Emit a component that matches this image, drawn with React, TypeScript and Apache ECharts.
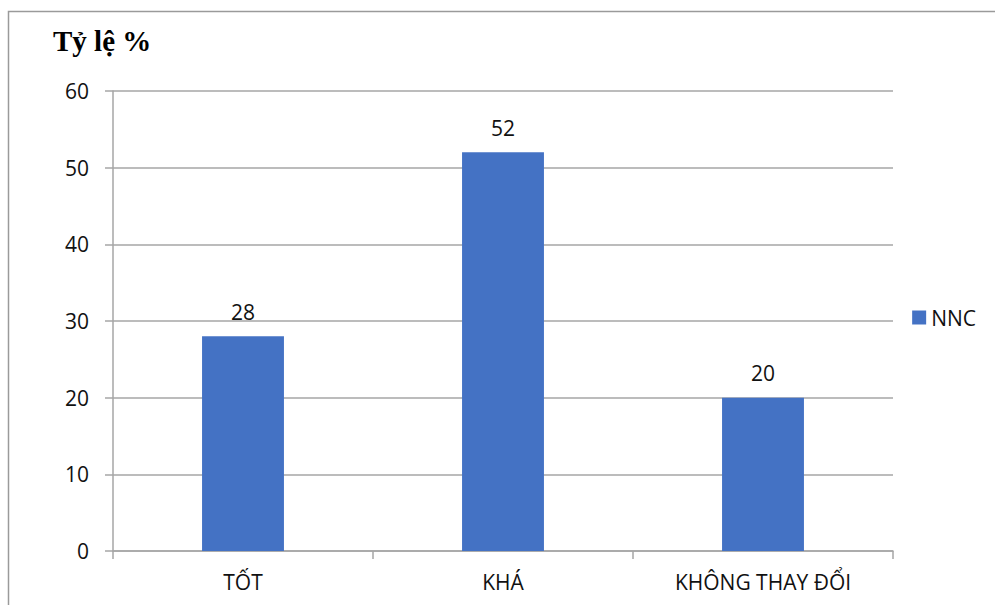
import React, { useEffect, useRef } from "react";
import * as echarts from "echarts";

const categories = ["TỐT", "KHÁ", "KHÔNG THAY ĐỔI"];
const nncValues = [28, 52, 20];
const seriesName = "NNC";
const yTitle = "Tỷ lệ %";

const FONT = "'Open Sans', 'Noto Sans', sans-serif";

export default function App() {
  const ref = useRef<HTMLDivElement>(null);

  useEffect(() => {
    if (!ref.current) return;
    const chart = echarts.init(ref.current, undefined, { renderer: "svg" });
    chart.setOption({
      animation: false,
      backgroundColor: "#ffffff",
      graphic: [
        {
          type: "rect",
          shape: { x: 8.5, y: 11.5, width: 1100, height: 700 },
          style: { fill: "none", stroke: "#9a9a9a", lineWidth: 1.5 },
          silent: true,
        },
        {
          type: "text",
          left: 53,
          top: 26,
          style: {
            text: yTitle,
            font: "bold 29px 'Liberation Serif', 'Times New Roman', serif",
            fill: "#000000",
          },
        },
      ],
      legend: {
        show: true,
        right: 14,
        top: 302,
        orient: "vertical",
        icon: "rect",
        itemWidth: 14,
        itemHeight: 14,
        itemGap: 8,
        textStyle: { fontFamily: FONT, fontSize: 21, color: "#111111" },
        data: [seriesName],
      },
      grid: { left: 113, right: 102, top: 91, bottom: 54, containLabel: false },
      xAxis: {
        type: "category",
        data: categories,
        boundaryGap: true,
        axisLine: { show: true, lineStyle: { color: "#a6a6a6", width: 1.5 } },
        axisTick: { show: true, length: 8, alignWithLabel: false, lineStyle: { color: "#a6a6a6", width: 1.5 } },
        axisLabel: { fontFamily: FONT, fontSize: 21, color: "#111111", margin: 20 },
      },
      yAxis: {
        type: "value",
        min: 0,
        max: 60,
        interval: 10,
        axisLine: { show: true, lineStyle: { color: "#a6a6a6", width: 1.5 } },
        axisTick: { show: true, length: 8, inside: false, lineStyle: { color: "#a6a6a6", width: 1.5 } },
        splitLine: { show: true, lineStyle: { color: "#a6a6a6", width: 1.5 } },
        axisLabel: { fontFamily: FONT, fontSize: 21, color: "#111111", margin: 24 },
      },
      series: [
        {
          name: seriesName,
          type: "bar",
          data: nncValues,
          barWidth: "31.5%",
          itemStyle: { color: "#4472c4" },
          label: {
            show: true,
            position: "top",
            distance: 14,
            fontFamily: FONT,
            fontSize: 21,
            color: "#111111",
          },
        },
      ],
    });
    return () => chart.dispose();
  }, []);

  return <div ref={ref} style={{ width: 995, height: 605, position: "absolute", left: 0, top: 0 }} />;
}
